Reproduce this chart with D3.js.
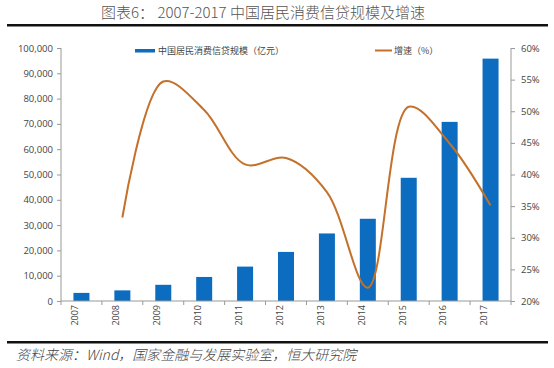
<!DOCTYPE html>
<html><head><meta charset="utf-8">
<script src="https://cdn.jsdelivr.net/npm/d3@7/dist/d3.min.js"></script>
<style>body{margin:0;background:#fff}svg{display:block}</style>
</head><body><svg id="c" width="554" height="368"></svg>
<script>
const years = ["2007","2008","2009","2010","2011","2012","2013","2014","2015","2016","2017"];
const scale = [3200,4200,6400,9500,13600,19400,26700,32500,48700,70800,95800];
const growth = [null,33.2,54.7,50.2,41.6,42.6,37.2,22.1,50.7,44.9,35.1];
const leftTicks = [0,10000,20000,30000,40000,50000,60000,70000,80000,90000,100000];
const rightTicks = [20,25,30,35,40,45,50,55,60];

const svg = d3.select("#c");
const font = "'Noto Sans CJK SC', sans-serif";
const L = 61, R = 511, T = 48, B = 301;

// title
svg.append("text").attr("x",263).attr("y",18).attr("text-anchor","middle")
  .attr("font-family",font).attr("font-size",15).attr("font-weight",300).attr("fill","#555")
  .text("图表6：  2007-2017 中国居民消费信贷规模及增速");
svg.append("rect").attr("x",7).attr("y",24).attr("width",541).attr("height",2.5).attr("fill","#111");

const xb = d3.scaleBand().domain(years).range([L,R]);
const yL = d3.scaleLinear().domain([0,100000]).range([B,T]);
const yR = d3.scaleLinear().domain([20,60]).range([B,T]);

// bars
svg.append("g").selectAll("rect").data(years).join("rect")
  .attr("x",d=>xb(d)+xb.bandwidth()/2-8).attr("width",16)
  .attr("y",(d,i)=>yL(scale[i])).attr("height",(d,i)=>B-yL(scale[i]))
  .attr("fill","#0b6cc0");

// line
const pts = years.map((d,i)=>[xb(d)+xb.bandwidth()/2, growth[i]]).filter(p=>p[1]!=null);
svg.append("path").datum(pts)
  .attr("d",d3.line().x(p=>p[0]).y(p=>yR(p[1])).curve(d3.curveCatmullRom.alpha(0.5)))
  .attr("fill","none").attr("stroke","#c4712b").attr("stroke-width",2);

// axes
const axisColor = "#999";
const gl = svg.append("g").attr("transform",`translate(${L},0)`)
  .call(d3.axisLeft(yL).tickValues(leftTicks).tickSize(4).tickPadding(4).tickFormat(d3.format(",")));
const gr = svg.append("g").attr("transform",`translate(${R},0)`)
  .call(d3.axisRight(yR).tickValues(rightTicks).tickSize(4).tickPadding(6).tickFormat(d=>d+"%"));
const gx = svg.append("g").attr("transform",`translate(0,${B})`)
  .call(d3.axisBottom(xb).tickSize(0).tickPadding(6));
svg.append("g").selectAll("line").data(d3.range(years.length+1)).join("line")
  .attr("x1",i=>L+i*xb.bandwidth()).attr("x2",i=>L+i*xb.bandwidth())
  .attr("y1",B).attr("y2",B+4).attr("stroke",axisColor);
[gl,gr,gx].forEach(g=>{
  g.selectAll(".domain").attr("stroke",axisColor);
  g.selectAll(".tick line").attr("stroke",axisColor);
  g.selectAll("text").attr("font-family","'Open Sans', sans-serif").attr("font-size",9.5).attr("fill","#444");
});
gl.select(".domain").attr("d",`M0,${T}V${B}`);
gr.select(".domain").attr("d",`M0,${T}V${B}`);
gx.select(".domain").attr("d",`M${L},0H${R}`);
gx.selectAll("text").attr("transform","rotate(-90)").attr("text-anchor","end")
  .attr("dx","-4").attr("dy","-0.35em").attr("x",0).attr("y",0).attr("font-size",9);

// legend
svg.append("rect").attr("x",135).attr("y",49).attr("width",20).attr("height",3.5).attr("fill","#0b6cc0");
svg.append("text").attr("x",158).attr("y",54).attr("font-family",font).attr("font-size",9).attr("fill","#444")
  .text("中国居民消费信贷规模（亿元）");
svg.append("rect").attr("x",375).attr("y",49.5).attr("width",17).attr("height",2).attr("fill","#c4712b");
svg.append("text").attr("x",394).attr("y",54).attr("font-family",font).attr("font-size",9).attr("fill","#444")
  .text("增速（%）");

// footer
svg.append("rect").attr("x",7).attr("y",341).attr("width",541).attr("height",2.5).attr("fill","#111");
svg.append("text").attr("x",16).attr("y",360).attr("font-family",font).attr("font-size",14).attr("font-weight",300)
  .attr("fill","#444").attr("font-style","italic")
  .text("资料来源：Wind，国家金融与发展实验室，恒大研究院");
</script></body></html>
